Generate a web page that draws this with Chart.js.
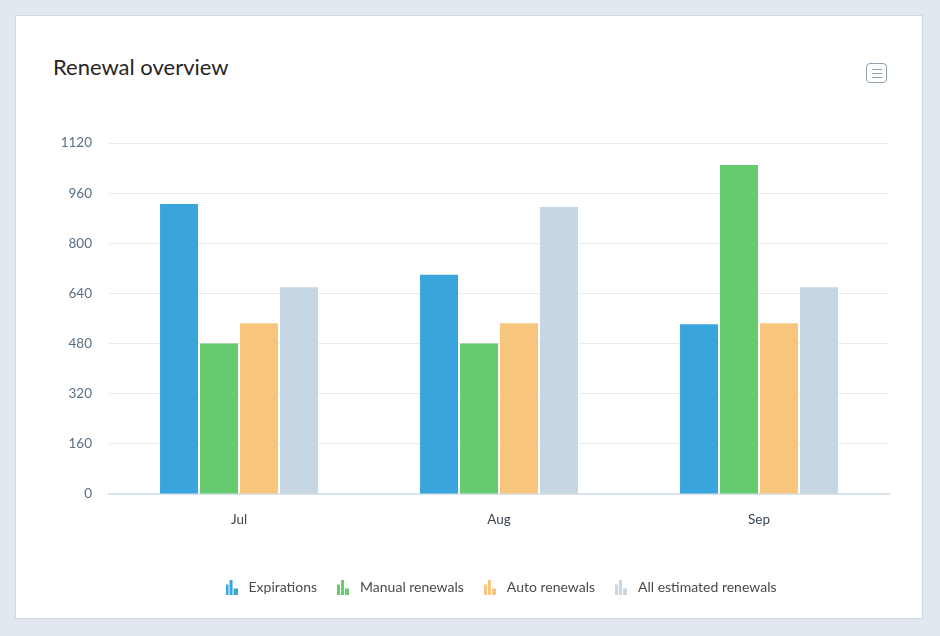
<!DOCTYPE html>
<html>
<head>
<meta charset="utf-8">
<script src="https://cdn.jsdelivr.net/npm/chart.js@4.4.1/dist/chart.umd.min.js"></script>
<style>
  html, body { margin: 0; padding: 0; background: #e2e8f0; width: 940px; height: 636px; overflow: hidden; }
  .card {
    position: absolute; left: 15px; top: 15px; width: 908px; height: 604px;
    background: #fff; border: 1px solid #cfd9e4; box-sizing: border-box;
  }
  .title {
    position: absolute; left: 53px; top: 53px; margin: 0;
    font-family: Lato, sans-serif; font-weight: 400; font-size: 22px; color: #262626;
  }
  .menu {
    position: absolute; left: 866px; top: 63px; width: 21px; height: 20px;
    border: 1px solid #8ea3b6; border-radius: 4px; box-sizing: border-box;
  }
  .menu span { position: absolute; left: 5px; width: 10px; height: 1px; background: #8ea3b6; }
  #wrap { position: absolute; left: 0; top: 0; width: 940px; height: 636px; }
</style>
</head>
<body>
<div class="card"></div>
<div class="title">Renewal overview</div>
<div class="menu"><span style="top:5px"></span><span style="top:9px"></span><span style="top:13px"></span></div>
<div id="wrap"><canvas id="chart"></canvas></div>
<script>
const categories = ['Jul', 'Aug', 'Sep'];
const expirations = [925, 700, 542];
const manualRenewals = [480, 480, 1050];
const autoRenewals = [545, 545, 545];
const allEstimatedRenewals = [660, 916, 660];
const yMax = 1120;
const yStep = 160;

// little three-bar icon used as the legend marker
function barIcon(color) {
  const c = document.createElement('canvas');
  c.width = 12; c.height = 15;
  const g = c.getContext('2d');
  g.fillStyle = color;
  g.fillRect(0, 5, 3, 10);
  g.fillRect(4, 0, 3, 15);
  g.fillRect(8, 9, 4, 6);
  return c;
}

function makeSet(label, data, color) {
  return {
    label: label,
    data: data,
    backgroundColor: color,
    borderWidth: 0,
    pointStyle: barIcon(color),
    barPercentage: 0.95,
    categoryPercentage: 0.615,
  };
}

// center the legend under the plot area instead of the whole canvas
const legendUnderPlot = {
  id: 'legendUnderPlot',
  afterLayout(chart) {
    const lg = chart.legend;
    lg.left = chart.chartArea.left;
    lg.right = chart.chartArea.right;
  },
};

const font = 'Lato, sans-serif';

new Chart(document.getElementById('chart'), {
  type: 'bar',
  data: {
    labels: categories,
    datasets: [
      makeSet('Expirations', expirations, '#3aa4dc'),
      makeSet('Manual renewals', manualRenewals, '#66ca6e'),
      makeSet('Auto renewals', autoRenewals, '#f8c57d'),
      makeSet('All estimated renewals', allEstimatedRenewals, '#c6d6e3'),
    ],
  },
  plugins: [legendUnderPlot],
  options: {
    responsive: true,
    maintainAspectRatio: false,
    animation: false,
    layout: { padding: { left: 0, right: 51, top: 143, bottom: 32 } },
    plugins: {
      tooltip: { enabled: false },
      legend: {
        position: 'bottom',
        labels: {
          usePointStyle: true,
          pointStyleWidth: 20,
          padding: 16,
          color: '#4a4a4a',
          font: { family: font, size: 14 },
        },
      },
    },
    scales: {
      x: {
        grid: { display: false },
        border: { display: true, color: '#dbe4ee', width: 2 },
        ticks: { color: '#3a4754', padding: 10, font: { family: font, size: 13.5 } },
        afterFit: (scale) => { scale.height = 70; },
      },
      y: {
        min: 0,
        max: yMax,
        ticks: {
          stepSize: yStep,
          color: '#5a6f84',
          padding: 17,
          font: { family: font, size: 13.5 },
          callback: (v) => String(v),
        },
        grid: { color: '#e6ecf2', drawTicks: false },
        border: { display: false },
        afterFit: (scale) => { scale.width = 109; },
      },
    },
  },
});
</script>
</body>
</html>
